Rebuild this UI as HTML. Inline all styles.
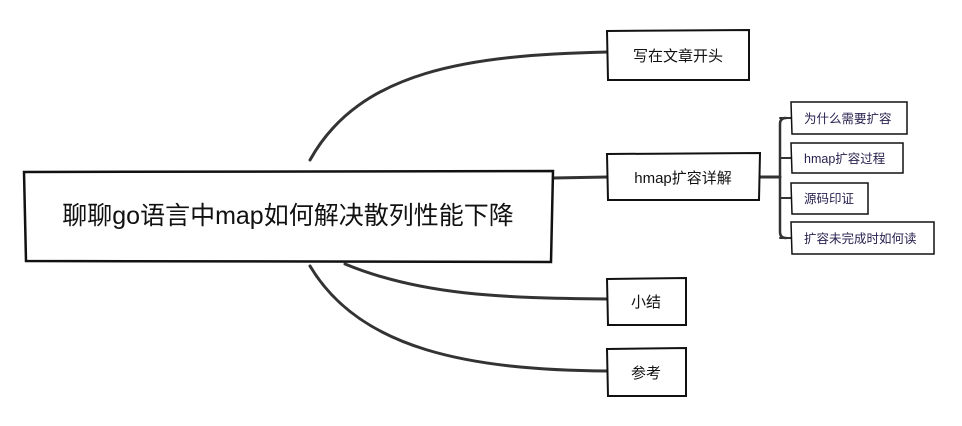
<!DOCTYPE html>
<html><head><meta charset="utf-8"><style>
body{margin:0;background:#fff;}
svg{display:block;}
text{font-family:"Liberation Sans","Noto Sans CJK SC",sans-serif;}
</style></head><body>
<svg width="962" height="426" viewBox="0 0 962 426" xmlns="http://www.w3.org/2000/svg">
<g fill="none" stroke="#333" stroke-width="3" stroke-linecap="round">
<path d="M310 160 C360 70 470 55 608 52"/>
<path d="M553 178 L608 177"/>
<path d="M345 264 C420 295 500 298 608 299"/>
<path d="M310 266 C360 350 470 370 608 371"/>
<path d="M760 177 L780 177"/>
<path d="M786 118 Q780 118 780 124 L780 232 Q780 238 786 238" stroke-width="2.5"/>
<path d="M780 118 L792 118 M780 158 L792 158 M780 198 L792 198 M780 238 L792 238" stroke-width="2"/>
</g>
<g fill="#fff" stroke="#111" stroke-width="2">
<path d="M24 172 L553 171 L551 262 L26 261 Z" stroke-width="2.5"/>
<path d="M607 31 L749 30 L749 80 L608 80 Z"/>
<path d="M607 154 L760 153 L759 200 L608 200 Z"/>
<path d="M607 279 L686 278 L686 325 L608 325 Z"/>
<path d="M607 349 L686 348 L686 396 L608 396 Z"/>
</g>
<g fill="#fff" stroke="#111" stroke-width="1.5">
<path d="M791 102 L907 102 L907 134 L792 134 Z"/>
<path d="M791 143 L903 143 L903 173 L792 173 Z"/>
<path d="M791 183 L868 183 L868 214 L792 214 Z"/>
<path d="M791 222 L934 222 L934 254 L792 254 Z"/>
</g>
<g fill="#111" text-anchor="middle">
<text x="288" y="224" font-size="25">聊聊go语言中map如何解决散列性能下降</text>
<text x="678" y="61" font-size="15">写在文章开头</text>
<text x="683" y="183" font-size="15">hmap扩容详解</text>
<text x="646" y="307" font-size="15">小结</text>
<text x="646" y="378" font-size="15">参考</text>
</g>
<g fill="#2a2250" font-size="12.5">
<text x="804" y="123">为什么需要扩容</text>
<text x="804" y="163">hmap扩容过程</text>
<text x="804" y="203">源码印证</text>
<text x="804" y="243">扩容未完成时如何读</text>
</g>
</svg>
</body></html>
